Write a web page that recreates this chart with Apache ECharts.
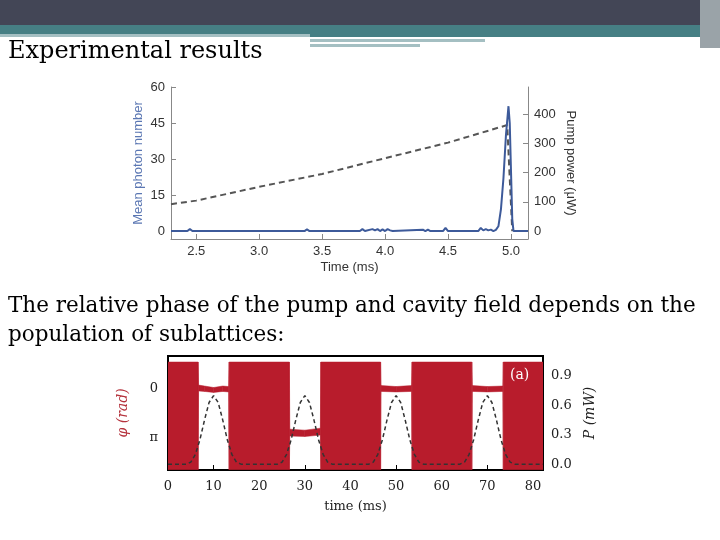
<!DOCTYPE html>
<html>
<head>
<meta charset="utf-8">
<script src="https://cdn.jsdelivr.net/npm/echarts@6/dist/echarts.min.js"></script>
<style>html,body{margin:0;padding:0;background:#fff}#main{width:720px;height:540px}</style>
</head>
<body>
<div id="main"></div>
<script>
// top chart: photon number (blue) and pump power (dashed)
var photonTime = [2.3,2.43,2.45,2.47,3.36,3.38,3.40,3.8,3.82,3.84,3.9,3.92,3.94,3.96,3.98,4.0,4.02,4.04,4.06,4.3,4.32,4.34,4.36,4.46,4.48,4.50,4.74,4.76,4.78,4.8,4.82,4.84,4.86,4.88,4.9,4.92,4.94,4.96,4.98,4.99,5.0,5.01,5.02,5.135];
var photonVal = [0,0,0.8,0,0,0.7,0,0,0.8,0,0.8,0.3,0.8,0,0.7,0,0.8,0.3,0,0.6,0,0.6,0,0,1.3,0,0,1.3,0.3,0.8,0.3,0.6,0,0.5,2,9,22,40,52,45,25,5,0,0];
var pumpTime = [2.3,2.5,3.0,3.5,4.0,4.5,4.97,4.99,5.01];
var pumpVal = [92,104,151,195,249,302,362,180,0];

// bottom chart: phase envelope (in units of pi) and pump power
var phiTime   = [0,6.6,6.7,8,10,12,13.3,13.4,26.6,26.7,30,33.4,33.5,46.6,46.7,50,53.4,53.5,66.6,66.7,70,73.4,73.5,82.2];
var phiTop    = [-0.55,-0.55,-0.08,-0.06,-0.03,-0.06,-0.05,-0.55,-0.55,0.82,0.84,0.80,-0.55,-0.55,-0.07,-0.05,-0.07,-0.55,-0.55,-0.07,-0.05,-0.06,-0.55,-0.55];
var phiBottom = [1.65,1.65,0.04,0.05,0.07,0.05,0.06,1.65,1.65,0.96,0.97,0.94,1.65,1.65,0.05,0.06,0.05,1.65,1.65,0.05,0.06,0.05,1.65,1.65];
var powTime = [0,4,5,6,7,8,9,10,11,12,13,14,15,16,24,25,26,27,28,29,30,31,32,33,34,35,36,44,45,46,47,48,49,50,51,52,53,54,55,56,64,65,66,67,68,69,70,71,72,73,74,75,76,82.2];
var powVal  = [0,0,0.02,0.1,0.25,0.45,0.63,0.7,0.63,0.45,0.25,0.1,0.02,0,0,0.02,0.1,0.25,0.45,0.63,0.7,0.63,0.45,0.25,0.1,0.02,0,0,0.02,0.1,0.25,0.45,0.63,0.7,0.63,0.45,0.25,0.1,0.02,0,0,0.02,0.1,0.25,0.45,0.63,0.7,0.63,0.45,0.25,0.1,0.02,0,0];

var photonTicks = [0,15,30,45,60];
var pumpTicks = [0,100,200,300,400];
var timeTicks = [2.5,3.0,3.5,4.0,4.5,5.0];
var powTicks = [0,0.3,0.6,0.9];
var phiTicks = [0,1];

function zip(a, b) { return a.map(function (v, i) { return [v, b[i]]; }); }
var phiData = phiTime.map(function (t, i) { return [t, phiTop[i], phiBottom[i]]; });

// each item draws the band piece between this point and the next one
function renderBand(params, api) {
    var i = params.dataIndex;
    if (i >= phiData.length - 1) return;
    var a = phiData[i], b = phiData[i + 1];
    var pts = [api.coord([a[0], a[1]]), api.coord([b[0], b[1]]), api.coord([b[0], b[2]]), api.coord([a[0], a[2]])];
    var cs = params.coordSys;
    return {
        type: 'polygon',
        shape: { points: pts },
        style: { fill: '#b81c2c', stroke: '#b81c2c', lineWidth: 0.5 },
        clipPath: { type: 'rect', shape: { x: cs.x, y: cs.y, width: cs.width, height: cs.height } }
    };
}

var sans = 'Liberation Sans';
var serif = 'DejaVu Serif';
var myChart = echarts.init(document.getElementById('main'));
var option = {
    animation: false,
    graphic: [
        { type: 'rect', shape: { x: 0, y: 0, width: 720, height: 25 }, style: { fill: '#434656' } },
        { type: 'rect', shape: { x: 0, y: 25, width: 720, height: 9 }, style: { fill: '#467f84' } },
        { type: 'rect', shape: { x: 0, y: 34, width: 310, height: 3 }, style: { fill: '#a4bfc2' } },
        { type: 'rect', shape: { x: 310, y: 34, width: 400, height: 3 }, style: { fill: '#467f84' } },
        { type: 'rect', shape: { x: 310, y: 39, width: 175, height: 3 }, style: { fill: '#a4bfc2' } },
        { type: 'rect', shape: { x: 310, y: 44, width: 110, height: 3 }, style: { fill: '#a4bfc2' } },
        { type: 'rect', shape: { x: 700, y: 0, width: 20, height: 48 }, style: { fill: '#9aa3a8' } },
        { type: 'text', left: 8, top: 40, style: { text: 'Experimental results', font: '24px "DejaVu Serif"', fill: '#000' } },
        { type: 'text', left: 8, top: 292, style: { text: 'The relative phase of the pump and cavity field depends on the\npopulation of sublattices:', font: '21.5px "DejaVu Serif"', lineHeight: 29, fill: '#000' } },
        { type: 'text', left: 510, top: 368, z: 10, style: { text: '(a)', font: '14px "DejaVu Serif"', fill: '#fff' } }
    ],
    grid: [
        { left: 171, right: 192, top: 87, height: 152 },
        { left: 168, right: 177, top: 356, height: 114, show: true, borderColor: '#000', borderWidth: 2 }
    ],
    xAxis: [
        {
            gridIndex: 0, type: 'value', min: 2.3, max: 5.135,
            name: 'Time (ms)', nameLocation: 'middle', nameGap: 22,
            nameTextStyle: { fontFamily: sans, fontSize: 13, color: '#333' },
            axisLine: { onZero: false, lineStyle: { color: '#888' } },
            axisTick: { inside: true, customValues: timeTicks, lineStyle: { color: '#888' } },
            axisLabel: { customValues: timeTicks, fontFamily: sans, fontSize: 13, color: '#333', margin: 6,
                formatter: function (v) { return v.toFixed(1); } },
            splitLine: { show: false }
        },
        {
            gridIndex: 1, type: 'value', min: 0, max: 82.2, interval: 10,
            name: 'time (ms)', nameLocation: 'middle', nameGap: 30,
            nameTextStyle: { fontFamily: serif, fontSize: 13, color: '#222' },
            axisLine: { onZero: false, lineStyle: { color: '#000', width: 2 } },
            axisTick: { inside: true, lineStyle: { color: '#000' } },
            axisLabel: { fontFamily: serif, fontSize: 13, color: '#222', margin: 10, showMaxLabel: false },
            splitLine: { show: false }
        }
    ],
    yAxis: [
        {
            gridIndex: 0, type: 'value', min: -3.3, max: 60,
            name: 'Mean photon number', nameLocation: 'middle', nameGap: 26,
            nameTextStyle: { fontFamily: sans, fontSize: 13, color: '#5b77b3' },
            axisLine: { show: true, onZero: false, lineStyle: { color: '#888' } },
            axisTick: { show: true, inside: true, customValues: photonTicks, lineStyle: { color: '#888' } },
            axisLabel: { customValues: photonTicks, fontFamily: sans, fontSize: 13, color: '#333', margin: 6 },
            splitLine: { show: false }
        },
        {
            gridIndex: 0, type: 'value', position: 'right', min: -27, max: 492,
            name: 'Pump power (\u03bcW)', nameLocation: 'middle', nameGap: 36, nameRotate: -90,
            nameTextStyle: { fontFamily: sans, fontSize: 13, color: '#333' },
            axisLine: { show: true, onZero: false, lineStyle: { color: '#888' } },
            axisTick: { show: true, inside: true, customValues: pumpTicks, lineStyle: { color: '#888' } },
            axisLabel: { customValues: pumpTicks, fontFamily: sans, fontSize: 13, color: '#333', margin: 6 },
            splitLine: { show: false }
        },
        {
            gridIndex: 1, type: 'value', inverse: true, min: -0.673, max: 1.653,
            name: '\u03c6 (rad)', nameLocation: 'middle', nameGap: 38,
            nameTextStyle: { fontFamily: serif, fontSize: 14, color: '#b5333d', fontStyle: 'italic' },
            axisLine: { show: true, onZero: false, lineStyle: { color: '#000', width: 2 } },
            axisTick: { show: true, inside: true, customValues: phiTicks, lineStyle: { color: '#000' } },
            axisLabel: { customValues: phiTicks, fontFamily: serif, fontSize: 13, color: '#222', margin: 10,
                formatter: function (v) { return v === 0 ? '0' : '\u03c0'; } },
            splitLine: { show: false }
        },
        {
            gridIndex: 1, type: 'value', position: 'right', min: -0.06, max: 1.105,
            name: 'P (mW)', nameLocation: 'middle', nameGap: 40, nameRotate: 90,
            nameTextStyle: { fontFamily: serif, fontSize: 14, color: '#222', fontStyle: 'italic' },
            axisLine: { show: true, onZero: false, lineStyle: { color: '#000', width: 2 } },
            axisTick: { show: true, inside: true, customValues: powTicks, lineStyle: { color: '#000' } },
            axisLabel: { customValues: powTicks, fontFamily: serif, fontSize: 13, color: '#222', margin: 8,
                formatter: function (v) { return v.toFixed(1); } },
            splitLine: { show: false }
        }
    ],
    series: [
        {
            type: 'line', xAxisIndex: 0, yAxisIndex: 1, data: zip(pumpTime, pumpVal), showSymbol: false,
            lineStyle: { color: '#555', width: 2, type: [6, 4] }
        },
        {
            type: 'line', xAxisIndex: 0, yAxisIndex: 0, data: zip(photonTime, photonVal), showSymbol: false,
            lineStyle: { color: '#3d5a9a', width: 2 }
        },
        {
            type: 'custom', xAxisIndex: 1, yAxisIndex: 2, data: phiData, renderItem: renderBand,
            encode: { x: 0, y: [1, 2] }, z: 1
        },
        {
            type: 'line', xAxisIndex: 1, yAxisIndex: 3, data: zip(powTime, powVal), showSymbol: false, z: 5,
            lineStyle: { color: '#333', width: 1.5, type: [4, 3] }
        }
    ]
};
myChart.setOption(option);
</script>
</body>
</html>
